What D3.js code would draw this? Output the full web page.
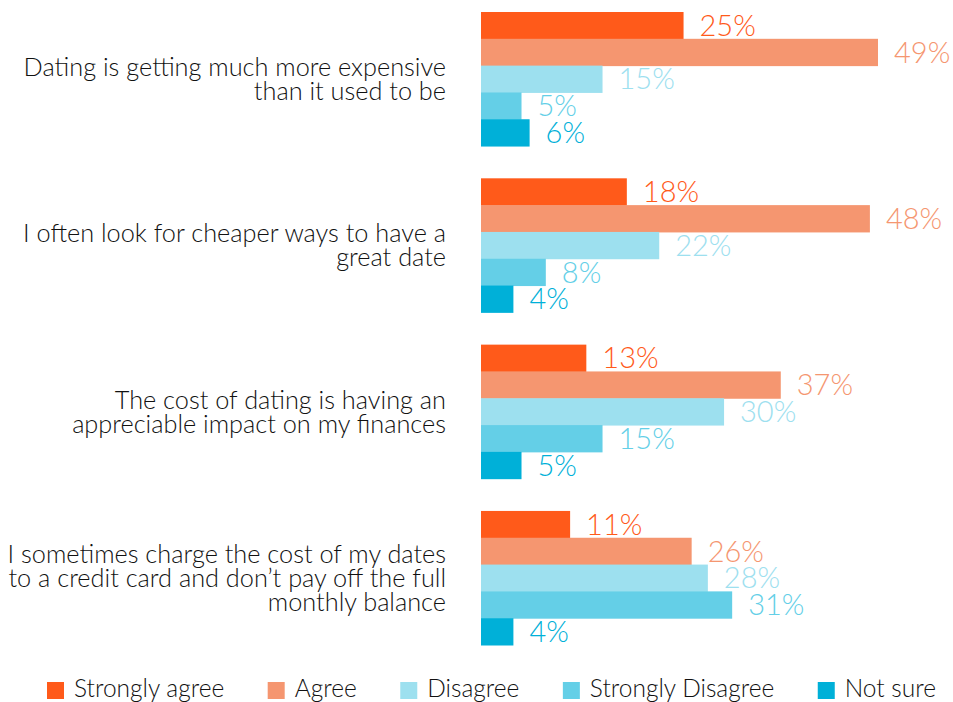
<!DOCTYPE html>
<meta charset="utf-8">
<head>
  <title>Dating costs</title>
  <script src="https://d3js.org/d3.v7.min.js"></script>
  <style>
    body { margin: 0; background: white; }
    text { font-family: 'Lato', sans-serif; }
    .cat { font-size: 25.3px; fill: #111; font-weight: 300; }
    .val { font-size: 29px; font-weight: 300; }
    .legend text { font-size: 24.5px; fill: #111; font-weight: 300; }
  </style>
</head>
<body>
<script>
  // statements (lines already split the way the chart wraps them)
  var categories = [
    ["Dating is getting much more expensive", "than it used to be"],
    ["I often look for cheaper ways to have a", "great date"],
    ["The cost of dating is having an", "appreciable impact on my finances"],
    ["I sometimes charge the cost of my dates", "to a credit card and don\u2019t pay off the full", "monthly balance"]
  ];
  var series = ["Strongly agree", "Agree", "Disagree", "Strongly Disagree", "Not sure"];
  var colors = ["#ff5a1a", "#f59670", "#9de0ef", "#64cfe7", "#00b0d8"];

  var stronglyAgree    = [25, 18, 13, 11];
  var agree            = [49, 48, 37, 26];
  var disagree         = [15, 22, 30, 28];
  var stronglyDisagree = [5, 8, 15, 31];
  var notSure          = [6, 4, 5, 4];
  var values = [stronglyAgree, agree, disagree, stronglyDisagree, notSure];

  var width = 953, height = 702;

  var svg = d3.select("body").append("svg")
    .attr("width", width)
    .attr("height", height);

  var x = d3.scaleLinear().domain([0, 49]).range([481, 878]);

  var y0 = d3.scaleBand()
    .domain(d3.range(categories.length))
    .range([12, 645])
    .paddingInner(0.194);

  var y1 = d3.scaleBand()
    .domain(series)
    .range([0, y0.bandwidth()]);

  var groups = svg.selectAll(".group")
    .data(categories)
    .enter().append("g")
    .attr("class", "group")
    .attr("transform", function(d, i) { return "translate(0," + y0(i) + ")"; });

  groups.each(function(lines, gi) {
    var g = d3.select(this);
    var rows = series.map(function(s, si) {
      return { name: s, value: values[si][gi], color: colors[si] };
    });

    g.selectAll("rect")
      .data(rows)
      .enter().append("rect")
      .attr("x", x(0))
      .attr("y", function(d) { return y1(d.name); })
      .attr("height", y1.bandwidth() + 0.5)
      .attr("width", function(d) { return x(d.value) - x(0); })
      .attr("fill", function(d) { return d.color; });

    g.selectAll(".val")
      .data(rows)
      .enter().append("text")
      .attr("class", "val")
      .attr("x", function(d) { return x(d.value) + 16; })
      .attr("y", function(d) { return y1(d.name) + y1.bandwidth() / 2; })
      .attr("dy", "0.36em")
      .attr("fill", function(d) { return d.color; })
      .text(function(d) { return d.value + "%"; });

    // category label, right aligned, centred on the group
    var lh = 24;
    var mid = y0.bandwidth() / 2;
    var t = g.append("text")
      .attr("class", "cat")
      .attr("text-anchor", "end");
    lines.forEach(function(line, li) {
      t.append("tspan")
        .attr("x", 446)
        .attr("y", mid + (li - (lines.length - 1) / 2) * lh)
        .attr("dy", "0.35em")
        .text(line);
    });
  });

  // legend, spread between 47 and 936
  var legend = svg.append("g").attr("class", "legend");
  var items = series.map(function(s, i) {
    var item = legend.append("g");
    item.append("rect")
      .attr("x", 0).attr("y", -8)
      .attr("width", 17).attr("height", 17)
      .attr("fill", colors[i]);
    var txt = item.append("text")
      .attr("x", 27)
      .attr("dy", "0.3em")
      .text(s);
    return { g: item, w: 27 + txt.node().getComputedTextLength() };
  });
  var total = d3.sum(items, function(d) { return d.w; });
  var gap = (936 - 47 - total) / (items.length - 1);
  var lx = 47;
  items.forEach(function(d) {
    d.g.attr("transform", "translate(" + lx + ",690)");
    lx += d.w + gap;
  });
</script>
</body>
</html>
